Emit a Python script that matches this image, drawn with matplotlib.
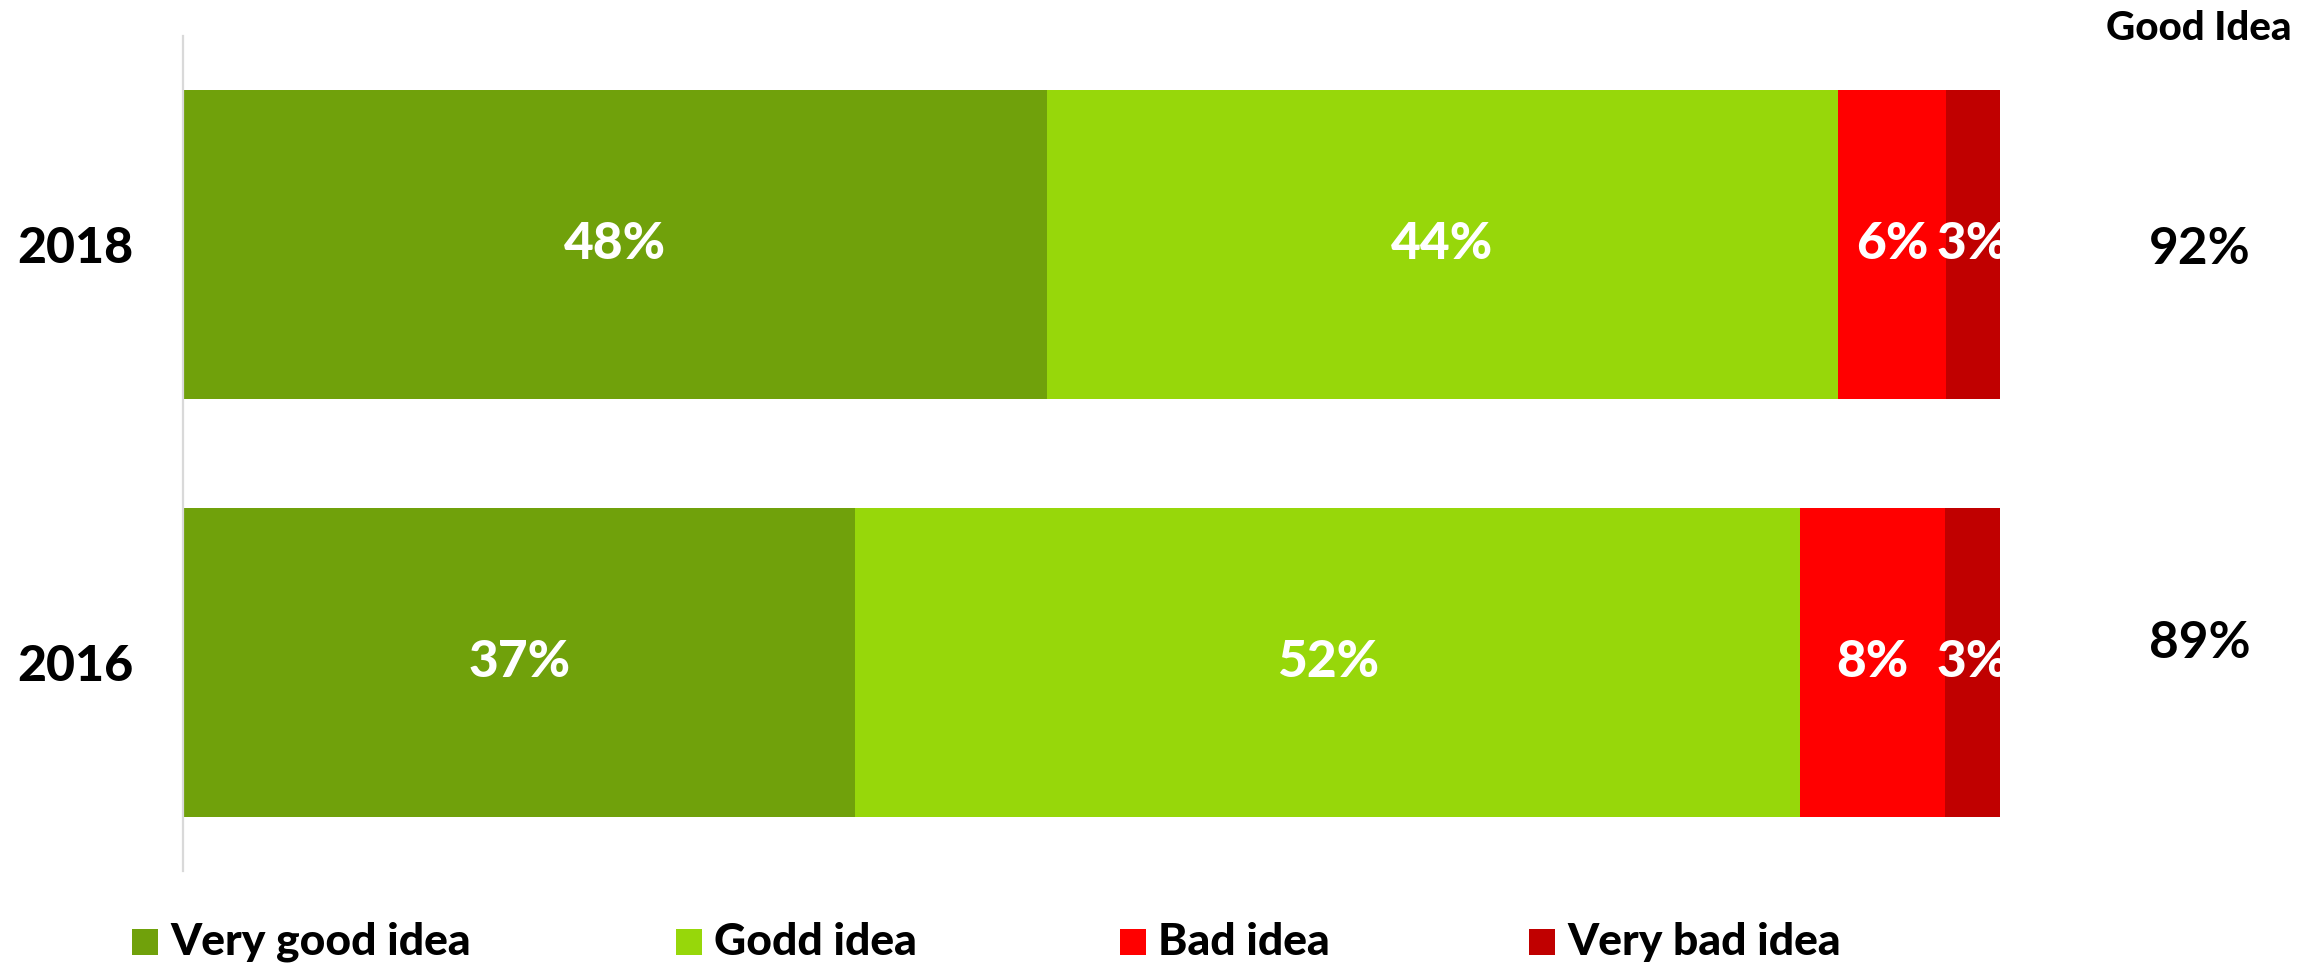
import matplotlib
matplotlib.use("Agg")
import matplotlib.pyplot as plt
from matplotlib.patches import Rectangle
import numpy as np

plt.rcParams['font.family'] = ['Lato', 'DejaVu Sans']

# ---- data ----
years = ["2018", "2016"]
categories = ["Very good idea", "Godd idea", "Bad idea", "Very bad idea"]
very_good = [48, 37]
good = [44, 52]
bad = [6, 8]
very_bad = [3, 3]
series = [very_good, good, bad, very_bad]
colors = ["#70A10B", "#97D70A", "#FF0000", "#C00000"]
header = "Good Idea"

# ---- figure ----
W, H = 2321, 964
fig = plt.figure(figsize=(W / 100, H / 100), dpi=100)
ax = fig.add_axes([183 / W, 1 - 871 / H, (2000 - 183) / W, (871 - 36) / H])

ypos = np.arange(len(years))
totals = np.sum(np.array(series), axis=0)
left = np.zeros(len(years))
for vals, col in zip(series, colors):
    share = np.array(vals) / totals * 100  # 100% stacked
    ax.barh(ypos, share, left=left, height=0.74, color=col, edgecolor=col, linewidth=0)
    for y, l, w, v in zip(ypos, left, share, vals):
        ax.text(l + w / 2, y, f"{v}%", ha="center", va="center", color="white",
                fontsize=37, fontweight="black", clip_on=True)
    left = left + share

ax.set_xlim(0, 100)
ax.set_ylim(-0.5, 1.5)
ax.invert_yaxis()
ax.set_yticks(ypos)
ax.set_yticklabels(years, fontsize=36, fontweight="black")
ax.tick_params(axis="y", length=0, pad=36)
ax.set_xticks([])
for s in ["top", "right", "bottom"]:
    ax.spines[s].set_visible(False)
ax.spines["left"].set_color("#D9D9D9")
ax.spines["left"].set_linewidth(1.6)

# Good idea totals column
good_total = [a + b for a, b in zip(very_good, good)]
nudges = [-5, 19]  # vertical nudge in px (layout only)
for y, t, nd in zip(ypos, good_total, nudges):
    ax.annotate(f"{t}%", xy=(111, y), xytext=(0, nd * 0.72), textcoords="offset points",
                ha="center", va="center", fontsize=37, fontweight="bold",
                color="black", annotation_clip=False)
fig.text(2199 / W, 1 - 28 / H, header, ha="center", va="center",
         fontsize=29, fontweight="black", color="black")

# legend (manual placement, matching the reference spacing)
leg_x = [132, 676, 1120, 1529]
leg_y = 942
sq = 26
for x, cat, col in zip(leg_x, categories, colors):
    fig.add_artist(Rectangle((x / W, (H - leg_y - sq / 2) / H), sq / W, sq / H,
                             transform=fig.transFigure, facecolor=col, edgecolor="none"))
    fig.text((x + sq + 12) / W, 1 - leg_y / H, cat, ha="left", va="center",
             fontsize=32, fontweight="black", color="black")

fig.savefig("out.png", dpi=100, facecolor="white")
